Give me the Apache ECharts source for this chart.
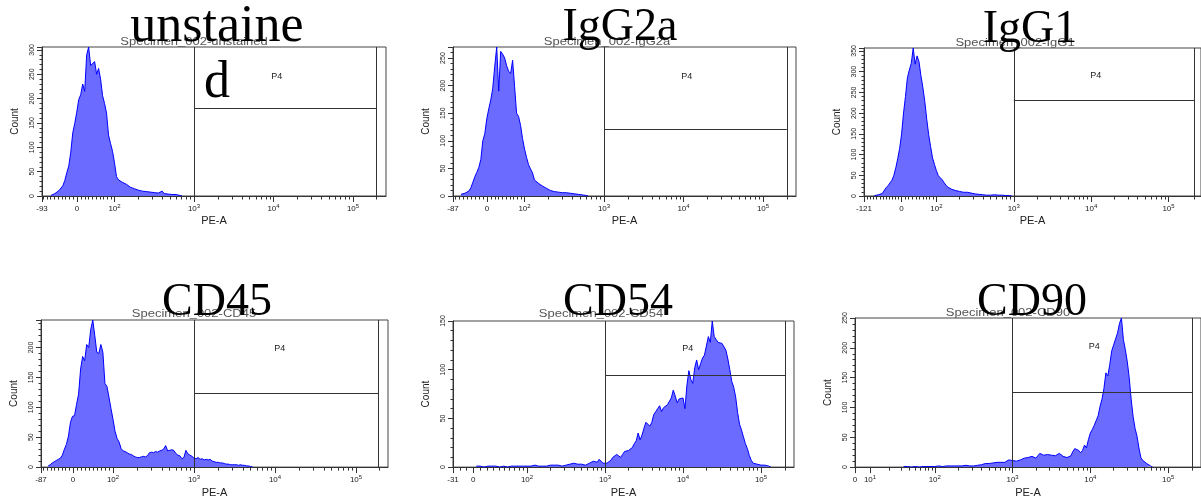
<!DOCTYPE html>
<html><head><meta charset="utf-8">
<script src="https://cdn.jsdelivr.net/npm/echarts@6/dist/echarts.min.js"></script>
<style>html,body{margin:0;padding:0;background:#fff}#c{width:1201px;height:499px}</style>
</head><body><div id="c"></div>
<script>
// ---- data (display scale: 10^2 = 2, 10^3 = 3, 10^4 = 4, 10^5 = 5; bins of STEP display units) ----
const STEP = 0.025;
const panelTitles = ['unstaine\nd', 'IgG2a', 'IgG1', 'CD45', 'CD54', 'CD90'];
const specimenNames = ['Specimen_002-unstained', 'Specimen_002-IgG2a', 'Specimen_002-IgG1',
  'Specimen_002-CD45', 'Specimen_002-CD54', 'Specimen_002-CD90'];
const binStarts = [1.2, 1.2, 1.2, 1.2, 1.35, 1.6];

const unstainedCounts = [1,3,5,8,11,15,21,32,48,62,90,130,149,172,198,208,230,215,290,306,268,272,276,250,262,240,206,190,170,125,108,92,68,40,33,30,28,26,24,22,18,16,15,13,12,11,10,9,9,8,8,7,7,6,6,7,10,5,5,4,3,3,3,3,2,1,0];
const igg2aCounts = [3,4,5,7,9,15,25,35,43,52,66,100,113,140,158,174,195,235,270,190,262,257,250,236,226,222,246,198,150,144,128,104,85,70,57,49,42,29,26,23,20,18,16,14,12,10,9,8,8,7,7,6,7,6,5,5,5,4,4,3,3,2,1,1,0];
const igg1Counts = [1,2,3,4,6,10,20,25,28,38,50,68,90,115,150,200,240,285,304,320,357,318,338,324,290,262,228,185,148,119,92,76,61,49,44,39,32,26,21,18,16,15,13,12,11,10,9,8,9,11,7,6,5,4,4,3,3,3,2,3,2,2,3,2,2,1,2,2,1,2,1,0];
const cd45Counts = [2,4,7,9,11,13,15,20,30,38,52,75,85,86,105,122,164,185,178,205,200,230,246,220,192,190,205,192,140,135,117,98,80,60,48,42,31,27,26,24,22,21,19,17,16,16,17,18,17,19,24,25,24,26,25,27,28,30,36,27,28,29,28,23,20,19,14,16,28,22,20,18,15,14,16,13,14,12,13,12,13,10,9,8,8,7,7,6,5,5,4,4,4,4,3,4,3,3,2,2,1,0];
const cd54Counts = [1,0,1,1,0,1,1,0,1,1,
  1,1,0,1,1,1,0,1,1,2,1,1,1,2,1,1,1,2,1,1,2,1,1,2,1,2,1,2,2,1,2,1,2,2,1,2,2,2,3,2,4,2,3,2,3,3,2,3,4,3,6,4,5,8,
  7,4,3,4,5,7,10,12,13,11,10,13,16,18,17,16,20,24,27,35,28,33,40,46,48,42,46,54,57,60,63,57,61,63,64,66,71,79,73,66,70,68,71,60,84,99,90,86,102,110,100,106,112,115,117,134,128,150,134,131,128,126,127,128,120,111,100,88,82,72,56,44,38,31,24,19,12,7,4,3,3,3,2,2,2,1,1,0];
const cd90Counts = [1,0,1,1,0,1,1,1,0,1,1,1,1,2,1,1,1,1,2,1,1,1,2,1,2,1,2,4,2,1,2,2,3,2,2,3,2,3,3,3,
  4,5,6,7,6,7,7,6,8,9,8,7,8,10,12,10,11,9,10,11,12,14,15,15,16,17,18,16,15,19,23,21,20,19,21,22,20,18,19,21,
  23,20,18,17,16,17,19,26,31,30,28,24,28,37,32,46,57,63,70,78,86,102,114,132,158,153,172,195,205,205,
  225,241,250,214,197,177,150,114,85,65,52,32,16,11,8,6,4,2,0];
const allCounts = [unstainedCounts, igg2aCounts, igg1Counts, cd45Counts, cd54Counts, cd90Counts];

// axis / gate values
const countMax = [306, 270, 357, 246, 150, 250];
const axisMin = [1.088, 1.10, 1.064, 1.111, 1.051, 0.974];
const axisMax = [5.415, 5.415, 5.42, 5.395, 5.423, 5.423];
const zeroPos = [1.528, 1.528, 1.548, 1.506, 1.31, 1.167];
const negValues = [-93, -87, -121, -87, -31, 0];
const linCurve = [1000, 1000, 1000, 1000, 100, 0];
const gateLow = 3;
const gateHigh = [5.29, 5.30, 5.33, 5.284, 5.31, 5.31];
const gateCount = [181, 121, 232, 123, 94, 126];
const p4Pos = [[4.04, 246], [4.04, 217], [4.06, 290], [4.06, 198], [4.06, 122], [4.05, 202]];
const decadeLabels = ['10{s|2}', '10{s|3}', '10{s|4}', '10{s|5}'];

// ---- layout ----
const grids = [
  {left: 42, top: 47, width: 344, height: 149},
  {left: 453, top: 47, width: 343, height: 149},
  {left: 864, top: 48, width: 342, height: 148},
  {left: 41, top: 320, width: 347, height: 150},
  {left: 453, top: 321, width: 341, height: 147},
  {left: 855, top: 318, width: 347, height: 151}
];
const titlePos = [[217, 55.5, 52], [620, 28, 46], [1030, 30, 46], [217, 302.5, 46], [618, 302.5, 46], [1032, 303, 46]];
const specPos = [[194, 42], [607, 42], [1015, 43], [194, 314], [601, 314], [1008, 313]];

function majorTicks(i) {
  return [axisMin[i], zeroPos[i], 2, 3, 4, 5];
}
function majorLabels(i) {
  if (i === 5) return ['0', '10{s|1}'].concat(decadeLabels);
  return [String(negValues[i]), '0'].concat(decadeLabels);
}
function minorTicks(i) {
  const t = [];
  const mn = axisMin[i], z = zeroPos[i];
  if (i === 5) {
    for (let k = 2; k <= 9; k++) t.push(z + (2 - z) * Math.log10(k));
  } else {
    const nv = Math.abs(negValues[i]);
    for (let v = 10; v < nv; v += 10) t.push(z - (z - mn) * v / nv);
    const c = linCurve[i];
    for (let v = 10; v <= 90; v += 10) t.push(z + (2 - z) * Math.log(1 + v / c) / Math.log(1 + 100 / c));
  }
  for (let e = 2; e <= 4; e++) for (let k = 2; k <= 9; k++) t.push(e + Math.log10(k));
  t.push(gateHigh[i]);
  return t;
}

const axisColor = '#333';
const xAxes = [], yAxes = [], series = [], graphics = [];
for (let i = 0; i < 6; i++) {
  const majors = majorTicks(i), labels = majorLabels(i);
  xAxes.push({
    gridIndex: i, type: 'value', min: axisMin[i], max: axisMax[i], position: 'bottom',
    axisLine: {show: true, onZero: false, lineStyle: {color: axisColor}},
    axisTick: {show: true, length: 6, customValues: majors, lineStyle: {color: axisColor}},
    axisLabel: {
      customValues: majors, fontSize: 8, margin: 7, color: '#222', fontFamily: 'Liberation Sans', lineHeight: 12,
      formatter: function (v) {
        for (let j = 0; j < majors.length; j++) if (Math.abs(majors[j] - v) < 1e-6) return labels[j];
        return '';
      },
      rich: {s: {fontSize: 6, verticalAlign: 'top', lineHeight: 12, fontFamily: 'Liberation Sans', color: '#222'}}
    },
    splitLine: {show: false},
    name: 'PE-A', nameLocation: 'middle', nameGap: 18,
    nameTextStyle: {fontSize: 11, color: '#222', fontFamily: 'Liberation Sans'}
  });
  xAxes.push({
    gridIndex: i, type: 'value', min: axisMin[i], max: axisMax[i], position: 'bottom',
    axisLine: {show: false, onZero: false},
    axisTick: {show: true, length: 3.5, customValues: minorTicks(i), lineStyle: {color: axisColor}},
    axisLabel: {show: false}, splitLine: {show: false}
  });
  yAxes.push({
    gridIndex: i, type: 'value', min: 0, max: countMax[i], interval: 50,
    axisLine: {show: true, lineStyle: {color: axisColor}},
    axisTick: {show: true, length: 5, lineStyle: {color: axisColor}},
    minorTick: {show: true, splitNumber: 5, length: 2.5, lineStyle: {color: axisColor}},
    splitLine: {show: false}, minorSplitLine: {show: false},
    axisLabel: {rotate: 90, fontSize: 7, margin: 6, color: '#222', fontFamily: 'Liberation Sans',
      showMaxLabel: countMax[i] % 50 === 0},
    name: 'Count', nameLocation: 'middle', nameGap: 22, nameRotate: 90,
    nameTextStyle: {fontSize: 10, color: '#222', fontFamily: 'Liberation Sans'}
  });
  const counts = allCounts[i];
  const data = counts.map((c, k) => [binStarts[i] + k * STEP, c]);
  series.push({
    type: 'line', xAxisIndex: 2 * i, yAxisIndex: i, data: data,
    symbol: 'none', showSymbol: false, silent: true, animation: false,
    lineStyle: {color: '#0000ff', width: 1},
    itemStyle: {color: '#0000ff'},
    areaStyle: {color: '#6b6bff', opacity: 1},
    markLine: {
      silent: true, symbol: 'none', animation: false, label: {show: false},
      lineStyle: {color: '#333', width: 1, type: 'solid'},
      emphasis: {disabled: true},
      data: [
        {xAxis: gateLow},
        {xAxis: gateHigh[i]},
        [{coord: [gateLow, gateCount[i]]}, {coord: [gateHigh[i], gateCount[i]]}]
      ]
    },
    markPoint: {
      silent: true, animation: false, symbol: 'circle', symbolSize: 1,
      itemStyle: {color: 'rgba(0,0,0,0)'},
      label: {show: true, position: 'inside', formatter: 'P4', color: '#222', fontSize: 9, fontFamily: 'Liberation Sans'},
      data: [{coord: p4Pos[i]}]
    }
  });
  graphics.push({
    type: 'text', x: specPos[i][0], y: specPos[i][1], z: 50, scaleX: 1.3, silent: true,
    style: {text: specimenNames[i], fill: '#555', font: '10px "Liberation Sans"',
      align: 'center', verticalAlign: 'middle', textAlign: 'center', textVerticalAlign: 'middle'}
  });
  graphics.push({
    type: 'text', x: titlePos[i][0], y: titlePos[i][1], z: 100, silent: true,
    style: {text: panelTitles[i], fill: '#000', font: titlePos[i][2] + 'px "Liberation Serif"', lineHeight: 56,
      align: 'center', verticalAlign: 'middle', textAlign: 'center', textVerticalAlign: 'middle'}
  });
}

const chart = echarts.init(document.getElementById('c'));
chart.setOption({
  animation: false,
  backgroundColor: '#fff',
  grid: grids.map(g => Object.assign({show: true, borderColor: '#444', borderWidth: 1, containLabel: false}, g)),
  xAxis: xAxes,
  yAxis: yAxes,
  series: series,
  graphic: {elements: graphics}
});
</script></body></html>
